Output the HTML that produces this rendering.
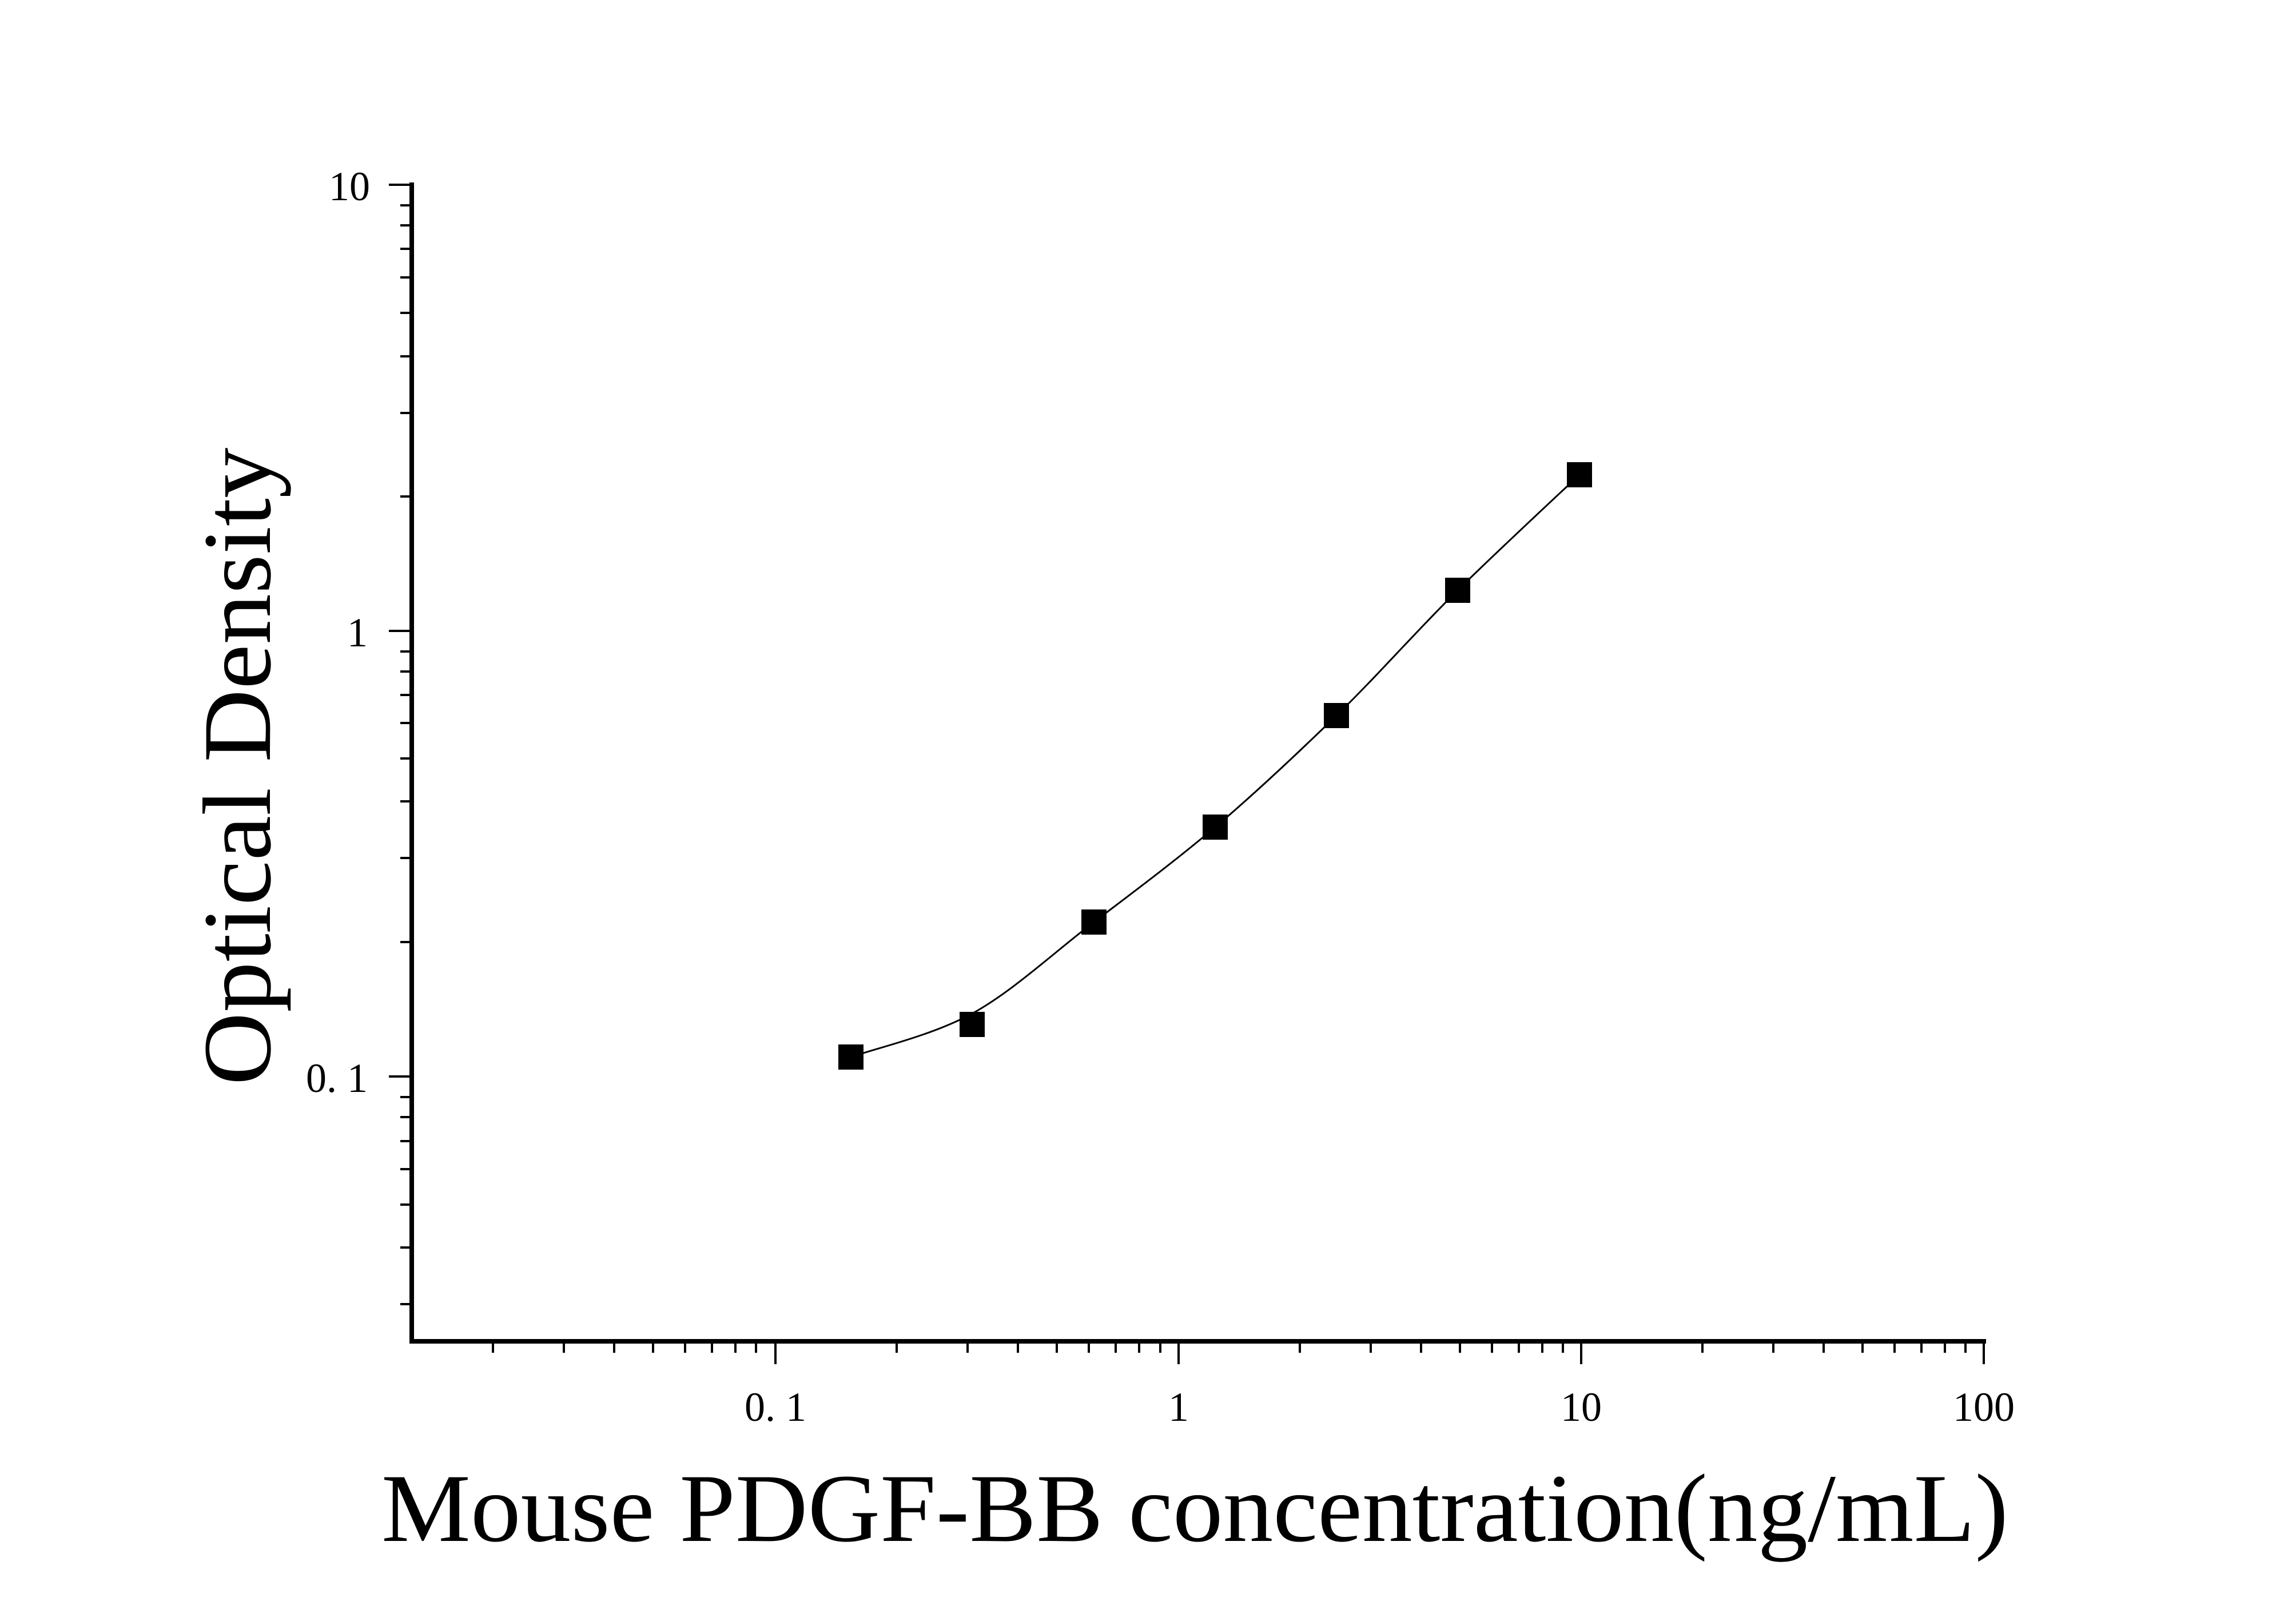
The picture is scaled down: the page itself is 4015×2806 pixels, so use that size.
<!DOCTYPE html>
<html><head><meta charset="utf-8"><style>html,body{margin:0;padding:0;background:#fff}svg{display:block}</style></head>
<body>
<svg width="4015" height="2806" viewBox="0 0 4015 2806" xmlns="http://www.w3.org/2000/svg">
<rect width="4015" height="2806" fill="#fff"/>
<g stroke="#000" fill="none">
<line x1="720" y1="319" x2="720" y2="2349" stroke-width="8"/>
<line x1="716" y1="2345" x2="3473" y2="2345" stroke-width="8"/>
<line x1="680" y1="323" x2="720" y2="323" stroke-width="4"/>
<line x1="680" y1="1103" x2="720" y2="1103" stroke-width="4"/>
<line x1="680" y1="1882" x2="720" y2="1882" stroke-width="4"/>
<path stroke-width="4" d="
M700 359H720 M700 394H720 M700 435H720 M700 485H720 M700 547H720 M700 623H720 M700 722H720 M700 868H720
M700 1139H720 M700 1174H720 M700 1215H720 M700 1264H720 M700 1326H720 M700 1401H720 M700 1500H720 M700 1647H720
M700 1918H720 M700 1953H720 M700 1995H720 M700 2044H720 M700 2106H720 M700 2181H720 M700 2280H720"/>
<path stroke-width="4" d="M1356 2345V2385 M2061 2345V2385 M2765 2345V2385 M3469 2345V2385"/>
<path stroke-width="4" d="
M862 2345V2365 M986 2345V2365 M1074 2345V2365 M1142 2345V2365 M1198 2345V2365 M1245 2345V2365 M1286 2345V2365 M1322 2345V2365
M1568 2345V2365 M1692 2345V2365 M1780 2345V2365 M1848 2345V2365 M1904 2345V2365 M1951 2345V2365 M1992 2345V2365 M2029 2345V2365
M2273 2345V2365 M2397 2345V2365 M2485 2345V2365 M2553 2345V2365 M2609 2345V2365 M2656 2345V2365 M2697 2345V2365 M2733 2345V2365
M2977 2345V2365 M3101 2345V2365 M3189 2345V2365 M3257 2345V2365 M3313 2345V2365 M3360 2345V2365 M3401 2345V2365 M3437 2345V2365"/>
<path stroke-width="3" d="M1488 1848 C1523 1835 1629 1811 1700 1772 C1771 1733 1842 1666 1913 1612 C1984 1558 2054 1506 2125 1446 C2196 1386 2266 1320 2337 1251 C2408 1182 2478 1102 2549 1032 C2620 962 2726 864 2762 830"/>
</g>
<g fill="#000">
<rect x="1466" y="1826" width="44" height="44"/>
<rect x="1678" y="1769" width="44" height="44"/>
<rect x="1891" y="1590" width="44" height="44"/>
<rect x="2103" y="1424" width="44" height="44"/>
<rect x="2315" y="1229" width="44" height="44"/>
<rect x="2527" y="1010" width="44" height="44"/>
<rect x="2740" y="808" width="44" height="44"/>
</g>
<g font-family="Liberation Serif, serif" fill="#000" font-size="72">
<text x="647" y="350" text-anchor="end">10</text>
<text x="643" y="1130" text-anchor="end">1</text>
<text x="643" y="1909" text-anchor="end">0. 1</text>
<text x="1356" y="2484" text-anchor="middle">0. 1</text>
<text x="2061" y="2484" text-anchor="middle">1</text>
<text x="2765" y="2484" text-anchor="middle">10</text>
<text x="3469" y="2484" text-anchor="middle">100</text>
<text x="667" y="2694" font-size="170" textLength="2845" lengthAdjust="spacingAndGlyphs">Mouse PDGF-BB concentration(ng/mL)</text>
<text transform="translate(472,1340) rotate(-90)" text-anchor="middle" font-size="170" textLength="1115" lengthAdjust="spacingAndGlyphs">Optical Density</text>
</g>
</svg>
</body></html>
